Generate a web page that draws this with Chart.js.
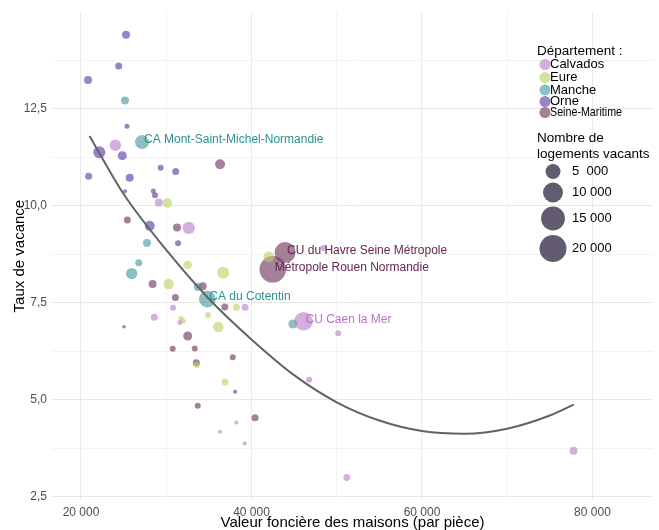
<!DOCTYPE html>
<html>
<head>
<meta charset="utf-8">
<script src="https://cdn.jsdelivr.net/npm/chart.js@4/dist/chart.umd.min.js"></script>
<style>
  body { margin: 0; background: #fff; }
  canvas { display: block; }
</style>
</head>
<body>
<canvas id="myChart" width="659" height="530"></canvas>
<script>
// valeurs
const departements = ["Calvados", "Eure", "Manche", "Orne", "Seine-Maritime"];

const calvadosX = [24030, 29120, 32640, 30800, 28600, 31585, 39250, 46100, 50165, 46760, 38230, 36315, 39210, 51180, 77780, 48440];
const calvadosY = [11.56, 10.08, 9.43, 7.37, 7.12, 6.99, 7.38, 7.02, 6.71, 5.51, 4.41, 4.17, 3.87, 2.99, 3.68, 8.91];
const calvadosN = [2400, 870, 3000, 310, 560, 140, 560, 8440, 310, 310, 40, 40, 40, 500, 870, 310];

const eureX = [30130, 32520, 30290, 31740, 32000, 34900, 38230, 36115, 33580, 36900, 42030, 36670];
const eureY = [10.07, 8.47, 7.98, 7.10, 7.02, 7.18, 7.38, 6.87, 5.89, 5.45, 8.68, 8.27];
const eureN = [1500, 1100, 1850, 140, 140, 310, 560, 2000, 310, 560, 2220, 2810];

const mancheX = [25164, 27160, 27746, 26770, 25950, 33700, 34820, 44850];
const mancheY = [12.71, 11.64, 9.04, 8.53, 8.25, 7.90, 7.59, 6.95];
const mancheN = [870, 4200, 870, 560, 2400, 870, 6450, 1250];

const orneX = [25282, 24425, 20822, 25400, 22150, 24850, 29350, 31110, 20900, 25716, 25164, 28486, 28685, 28060, 31385];
const orneY = [14.41, 13.60, 13.24, 12.05, 11.38, 11.29, 10.98, 10.88, 10.76, 10.72, 10.37, 10.38, 10.27, 9.48, 9.03];
const orneN = [870, 560, 870, 140, 2810, 1250, 310, 560, 560, 870, 40, 140, 310, 1700, 310];

const seineMarX = [36315, 25434, 31268, 28400, 31070, 25047, 32520, 34280, 36870, 30760, 33345, 37805, 33530, 38075, 33700, 40420, 43940, 42500];
const seineMarY = [11.07, 9.63, 9.44, 7.98, 7.63, 6.88, 6.64, 7.92, 7.39, 6.31, 6.32, 6.09, 5.95, 5.20, 4.84, 4.53, 8.79, 8.36];
const seineMarN = [1700, 560, 870, 870, 560, 10, 1250, 870, 560, 310, 310, 310, 560, 40, 310, 560, 11240, 19300];

// courbe de tendance
const courbeX = [21000, 25000, 30000, 35000, 40000, 45000, 50000, 55000, 60000, 65000, 70000, 75000, 77800];
const courbeY = [11.8, 10.3, 8.86, 7.6, 6.55, 5.63, 4.93, 4.46, 4.19, 4.12, 4.25, 4.59, 4.87];

// points nommés : [département, indice, nom]
const etiquettes = [
  ["Manche", 1, "CA Mont-Saint-Michel-Normandie"],
  ["Seine-Maritime", 16, "CU du Havre Seine Métropole"],
  ["Seine-Maritime", 17, "Métropole Rouen Normandie"],
  ["Manche", 6, "CA du Cotentin"],
  ["Calvados", 7, "CU Caen la Mer"],
];

const tailleValeurs = [5000, 10000, 15000, 20000];
const tailleLabels = ["5  000", "10 000", "15 000", "20 000"];

const xMajeurs = [20000, 40000, 60000, 80000];
const xMineurs = [30000, 50000, 70000];
const yMajeurs = [2.5, 5, 7.5, 10, 12.5];
const yMineurs = [3.75, 6.25, 8.75, 11.25, 13.75];

const couleurs = {
  "Calvados": "rgba(180,122,200,0.6)",
  "Eure": "rgba(186,208,95,0.6)",
  "Manche": "rgba(62,148,150,0.6)",
  "Orne": "rgba(96,66,168,0.65)",
  "Seine-Maritime": "rgba(104,44,86,0.6)",
};
const couleursTexte = {
  "Calvados": "#b672c6",
  "Eure": "#9aae3c",
  "Manche": "#2a9292",
  "Orne": "#5d45a0",
  "Seine-Maritime": "#652650",
};

const series = {
  "Calvados": [calvadosX, calvadosY, calvadosN],
  "Eure": [eureX, eureY, eureN],
  "Manche": [mancheX, mancheY, mancheN],
  "Orne": [orneX, orneY, orneN],
  "Seine-Maritime": [seineMarX, seineMarY, seineMarN],
};

function rayon(n) {
  return 1.5 + 0.0849 * Math.sqrt(n);
}

function milliers(v) {
  return String(v).replace(/\B(?=(\d{3})+(?!\d))/g, " ");
}

const police = "'Liberation Sans', Arial, sans-serif";

let datasets = departements.map((d) => {
  const [xs, ys, ns] = series[d];
  return {
    type: "bubble",
    label: d,
    order: 1,
    data: xs.map((x, i) => ({ x: x, y: ys[i], r: rayon(ns[i]) })),
    backgroundColor: couleurs[d],
    borderWidth: 0,
    hoverRadius: 0,
  };
});

datasets.push({
  type: "line",
  label: "tendance",
  order: 0,
  data: courbeX.map((x, i) => ({ x: x, y: courbeY[i] })),
  borderColor: "#636363",
  borderWidth: 2,
  pointRadius: 0,
  cubicInterpolationMode: "monotone",
  fill: false,
});

const surcouche = {
  id: "surcouche",
  afterDatasetsDraw(chart) {
    const ctx = chart.ctx;
    ctx.save();
    // noms des EPCI
    ctx.font = "12px " + police;
    ctx.textBaseline = "middle";
    ctx.textAlign = "left";
    etiquettes.forEach(([d, i, nom]) => {
      const el = chart.getDatasetMeta(departements.indexOf(d)).data[i];
      ctx.fillStyle = couleursTexte[d];
      ctx.fillText(nom, el.x + 2, el.y - 2);
    });

    // légende des départements
    ctx.fillStyle = "#000";
    ctx.font = "13.5px " + police;
    ctx.fillText("Département :", 537, 51);
    const lignes = [64.5, 77.5, 90, 101.5, 112.5];
    departements.forEach((d, k) => {
      ctx.beginPath();
      ctx.arc(545, lignes[k], 5.5, 0, Math.PI * 2);
      ctx.fillStyle = couleurs[d];
      ctx.fill();
      ctx.fillStyle = "#000";
      ctx.font = "13px " + police;
      ctx.fillText(d, 550, lignes[k], d === "Seine-Maritime" ? 72 : undefined);
    });

    // légende des tailles
    ctx.font = "13.5px " + police;
    ctx.fillText("Nombre de", 537, 138);
    ctx.fillText("logements vacants", 537, 154);
    const lignesT = [171.5, 192.5, 218.5, 248.5];
    tailleValeurs.forEach((v, k) => {
      ctx.beginPath();
      ctx.arc(553, lignesT[k], rayon(v), 0, Math.PI * 2);
      ctx.fillStyle = "rgba(38,28,60,0.72)";
      ctx.fill();
      ctx.fillStyle = "#000";
      ctx.font = "13px " + police;
      ctx.fillText(tailleLabels[k], 572, lignesT[k]);
    });
    ctx.restore();
  },
};

const ctx = document.getElementById("myChart").getContext("2d");

const myChart = new Chart(ctx, {
  type: "bubble",
  data: { datasets },
  plugins: [surcouche],
  options: {
    responsive: false,
    animation: false,
    devicePixelRatio: 1,
    events: [],
    layout: { autoPadding: false, padding: { top: 8, right: 6, left: 0, bottom: 0 } },
    plugins: {
      legend: { display: false },
      tooltip: { enabled: false },
    },
    scales: {
      x: {
        type: "linear",
        min: 16600,
        max: 87100,
        afterBuildTicks: (s) => {
          s.ticks = xMajeurs.concat(xMineurs).sort((a, b) => a - b).map((v) => ({ value: v }));
        },
        afterFit: (s) => {
          s.height = 30;
        },
        border: { display: false },
        grid: {
          drawTicks: false,
          color: (c) => (xMajeurs.includes(c.tick.value) ? "#e9e9e9" : "#f3f3f3"),
          lineWidth: 1,
        },
        ticks: {
          autoSkip: false,
          maxRotation: 0,
          padding: 5,
          color: "#4d4d4d",
          font: { family: police, size: 12 },
          callback: (v) => (xMajeurs.includes(v) ? milliers(v) : ""),
        },
        title: {
          display: true,
          text: "Valeur foncière des maisons (par pièce)",
          color: "#000",
          font: { family: police, size: 15, lineHeight: 1 },
          padding: { top: 0, bottom: 0 },
        },
      },
      y: {
        type: "linear",
        min: 2.41,
        max: 14.99,
        afterBuildTicks: (s) => {
          s.ticks = yMajeurs.concat(yMineurs).sort((a, b) => a - b).map((v) => ({ value: v }));
        },
        afterFit: (s) => {
          s.width = 52;
        },
        border: { display: false },
        grid: {
          drawTicks: false,
          color: (c) => (yMajeurs.includes(c.tick.value) ? "#e9e9e9" : "#f3f3f3"),
          lineWidth: 1,
        },
        ticks: {
          autoSkip: false,
          padding: 5,
          color: "#4d4d4d",
          font: { family: police, size: 12 },
          callback: (v) => (yMajeurs.includes(v) ? v.toFixed(1).replace(".", ",") : ""),
        },
        title: {
          display: true,
          text: "Taux de vacance",
          color: "#000",
          font: { family: police, size: 15, lineHeight: 1.2 },
          padding: { top: 11, bottom: 0 },
        },
      },
    },
  },
});
</script>
</body>
</html>
